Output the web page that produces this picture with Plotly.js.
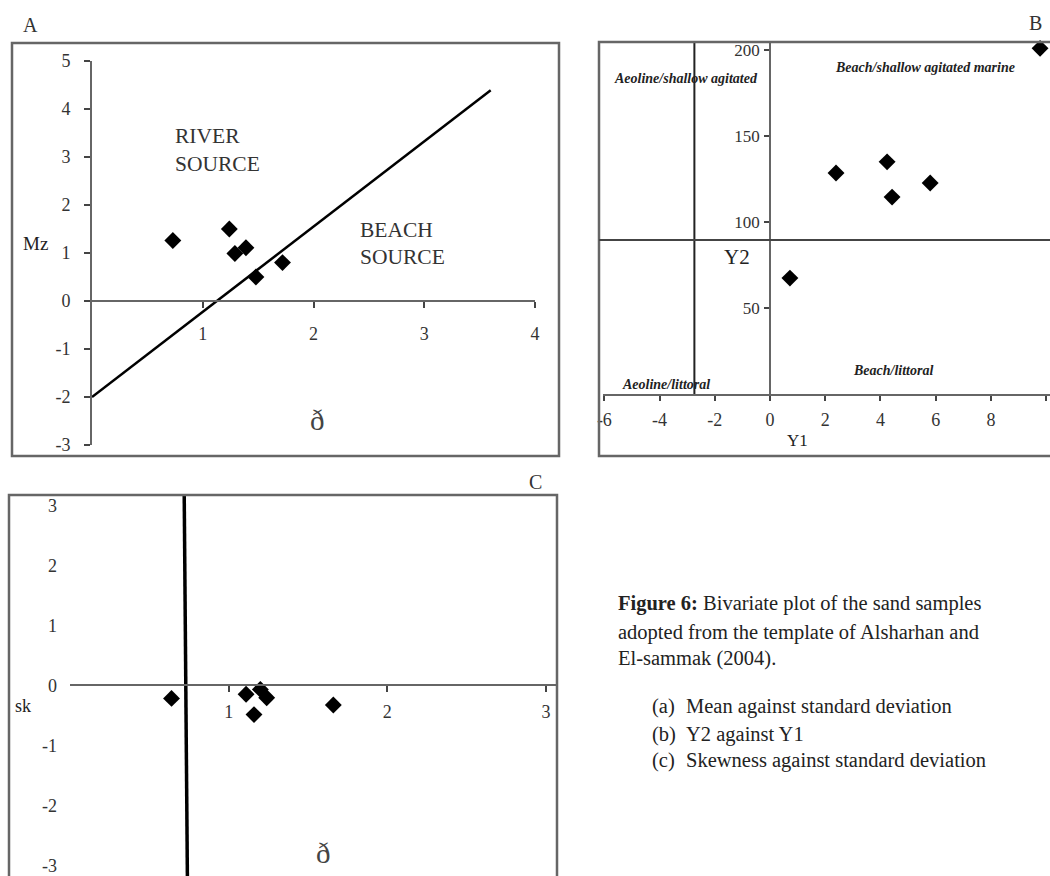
<!DOCTYPE html>
<html>
<head>
<meta charset="utf-8">
<script src="https://cdn.plot.ly/plotly-3.0.1.min.js"></script>
<style>html,body{margin:0;padding:0;background:#fff}</style>
</head>
<body>
<div id="plot" style="width:1050px;height:876px"></div>
<script>
// panel A: mean (Mz) against standard deviation
let sdA=[0.73,1.24,1.29,1.39,1.48,1.72];
let mzA=[1.26,1.5,0.99,1.11,0.5,0.8];
let lineAx=[0,3.6];
let lineAy=[-2,4.39];
let ticksAx=[1,2,3,4];
let ticksAy=[-3,-2,-1,0,1,2,3,4,5];
let labelsA=['RIVER','SOURCE','BEACH','SOURCE'];
let labelAx=[0.73,0.73,2.4,2.4];
let labelAy=[3.44,2.85,1.48,0.92];

// panel B: Y2 against Y1
let y1B=[0.72,2.39,4.24,4.42,5.8,9.78];
let y2B=[67.4,128.5,135,114.5,122.7,201];
let y1Cut=-2.74;
let y2Cut=89.5;
let ticksBx=[-6,-4,-2,0,2,4,6,8,10];
let ticksBy=[50,100,150,200];
let labelsB=['Aeoline/shallow agitated','Beach/shallow agitated marine','Aeoline/littoral','Beach/littoral'];
let labelBx=[-5.72,2.28,-5.43,2.93];
let labelBy=[183.7,190,5.8,13.4];

// panel C: skewness against standard deviation
let sdC=[0.64,1.11,1.2,1.24,1.16,1.66];
let skC=[-0.22,-0.15,-0.07,-0.21,-0.49,-0.33];
let lineCx=[0.72,0.74];
let lineCy=[3.17,-3.18];
let ticksCx=[1,2,3];
let ticksCy=[-3,-2,-1,0,1,2,3];

let captionLines=['<b>Figure 6:</b> Bivariate plot of the sand samples','adopted from the template of Alsharhan and','El-sammak (2004).'];
let itemTags=['(a)','(b)','(c)'];
let itemText=['Mean against standard deviation','Y2 against Y1','Skewness against standard deviation'];

const W=1050, H=876;
const serif='"Liberation Serif", "Times New Roman", serif';
const px=x=>x/W;
const py=y=>1-y/H;
const hy=v=>v.map(n=>String(n)); // plain hyphen minus, like the original

// where a data value sits in paper coords for a given domain/range
function paperPos(v,dom,rng){return dom[0]+(v-rng[0])/(rng[1]-rng[0])*(dom[1]-dom[0]);}

const domAx=[px(92),px(535)], rngAx=[0,4];
const domAy=[py(445),py(61)], rngAy=[-3,5];
const domBx=[px(603),px(1050)], rngBx=[-6.05,10.14];
const domBy=[py(394),py(42)], rngBy=[0,204.7];
const domCx=[px(70),px(557)], rngCx=[0,3.07];
const domCy=[py(876),py(495)], rngCy=[-3.18,3.17];

const mk={symbol:'diamond',size:13,color:'#000',line:{width:0}};

const traces=[
  {x:lineAx,y:lineAy,mode:'lines',line:{color:'#000',width:2.5},xaxis:'x',yaxis:'y'},
  {x:sdA,y:mzA,mode:'markers',marker:mk,xaxis:'x',yaxis:'y'},
  {x:[y1Cut,y1Cut],y:[0,rngBy[1]],mode:'lines',line:{color:'#222',width:2},xaxis:'x2',yaxis:'y2'},
  {x:y1B,y:y2B,mode:'markers',marker:mk,xaxis:'x2',yaxis:'y2',cliponaxis:false},
  {x:lineCx,y:lineCy,mode:'lines',line:{color:'#000',width:3.5},xaxis:'x3',yaxis:'y3'},
  {x:sdC,y:skC,mode:'markers',marker:mk,xaxis:'x3',yaxis:'y3'}
];

const tickFont={family:serif,size:18,color:'#333'};
const axBase={showgrid:false,zeroline:false,tickfont:tickFont,linecolor:'#666',linewidth:2,tickcolor:'#444',tickwidth:2,ticklen:6,ticks:'outside',fixedrange:true};

const layout={
  width:W,height:H,margin:{l:0,r:0,t:0,b:0},
  paper_bgcolor:'#fff',plot_bgcolor:'rgba(0,0,0,0)',showlegend:false,
  xaxis:Object.assign({},axBase,{domain:domAx,range:rngAx,tickvals:ticksAx,ticktext:hy(ticksAx),anchor:'free',
    position:paperPos(0,domAy,rngAy),showline:true,ticklabelstandoff:10}),
  yaxis:Object.assign({},axBase,{domain:domAy,range:rngAy,tickvals:ticksAy,ticktext:hy(ticksAy),anchor:'x',showline:true,ticklabelstandoff:10}),
  xaxis2:Object.assign({},axBase,{domain:domBx,range:rngBx,tickvals:ticksBx,ticktext:hy(ticksBx),anchor:'y2',
    showline:true,ticklen:5,ticklabelstandoff:3}),
  yaxis2:Object.assign({},axBase,{domain:domBy,range:rngBy,tickvals:ticksBy,ticktext:hy(ticksBy),anchor:'free',
    position:paperPos(0,domBx,rngBx),showline:true,ticklen:5,ticklabelstandoff:1,tickfont:{family:serif,size:17,color:'#333'}}),
  xaxis3:Object.assign({},axBase,{domain:domCx,range:rngCx,tickvals:ticksCx,ticktext:hy(ticksCx),anchor:'free',
    position:paperPos(0,domCy,rngCy),showline:true,ticklabelstandoff:4}),
  yaxis3:Object.assign({},axBase,{domain:domCy,range:rngCy,tickvals:ticksCy,ticktext:hy(ticksCy),anchor:'x3',showline:false,ticks:'',ticklabelstandoff:12}),
  shapes:[
    {type:'rect',xref:'paper',yref:'paper',x0:px(12),x1:px(559),y0:py(456),y1:py(43),line:{color:'#666',width:2.5}},
    {type:'rect',xref:'paper',yref:'paper',x0:px(599),x1:px(1060),y0:py(456),y1:py(42),line:{color:'#666',width:2.5}},
    {type:'rect',xref:'paper',yref:'paper',x0:px(9),x1:px(557),y0:py(890),y1:py(495),line:{color:'#666',width:2.5}},
    {type:'line',xref:'paper',yref:'y2',x0:px(599),x1:px(1050),y0:y2Cut,y1:y2Cut,line:{color:'#444',width:2}}
  ],
  annotations:[]
};

const ann=layout.annotations;
function txt(t,x,y,size,opts){
  ann.push(Object.assign({text:t,x:px(x),y:py(y),xref:'paper',yref:'paper',showarrow:false,
    font:{family:serif,size:size,color:'#222'},xanchor:'center',yanchor:'middle'},opts||{}));
}

labelsA.forEach((t,i)=>ann.push({text:t,x:labelAx[i],y:labelAy[i],xref:'x',yref:'y',showarrow:false,
  xanchor:'left',yanchor:'middle',font:{family:serif,size:21.5,color:'#333'}}));
labelsB.forEach((t,i)=>ann.push({text:'<b><i>'+t+'</i></b>',x:labelBx[i],y:labelBy[i],xref:'x2',yref:'y2',showarrow:false,
  xanchor:'left',yanchor:'middle',font:{family:serif,size:14,color:'#222'}}));

txt('A',30,25,20,{font:{family:serif,size:20,color:'#333'}});
txt('B',1035,23,20,{font:{family:serif,size:20,color:'#333'}});
txt('C',535,482,20,{font:{family:serif,size:20,color:'#333'}});
txt('Mz',35,243,19);
txt('ð',317,420,29,{font:{family:serif,size:29,color:'#444'}});
txt('Y2',737,257,21);
txt('Y1',797,440,17);
txt('sk',23,706,18);
txt('ð',323,853,29,{font:{family:serif,size:29,color:'#444'}});

captionLines.forEach((t,i)=>txt(t,616,[603,632,658][i],20.5,{xanchor:'left'}));
itemTags.forEach((t,i)=>{
  txt(t,650,[706,734,760][i],20.5,{xanchor:'left'});
  txt(itemText[i],684,[706,734,760][i],20.5,{xanchor:'left'});
});

Plotly.newPlot('plot',traces,layout,{displayModeBar:false,staticPlot:true});
</script>
</body>
</html>
